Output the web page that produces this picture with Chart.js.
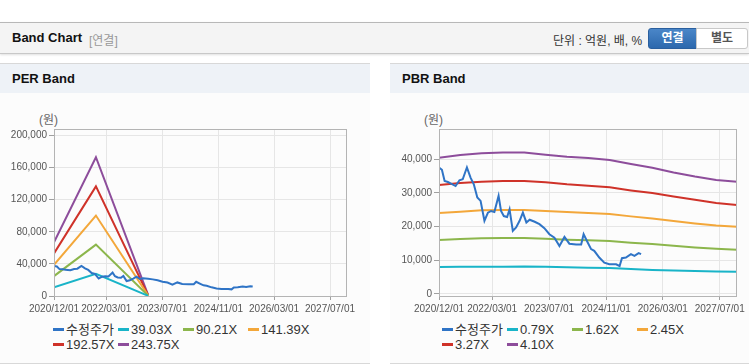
<!DOCTYPE html>
<html lang="ko">
<head>
<meta charset="utf-8">
<script src="https://cdn.jsdelivr.net/npm/chart.js@4/dist/chart.umd.min.js"></script>
<style>
  html, body { margin: 0; padding: 0; background: #fff; }
  body { width: 749px; height: 364px; position: relative; overflow: hidden;
         font-family: Arial, "Liberation Sans", "Noto Sans CJK KR", sans-serif; }
  .topbar { position: absolute; left: 0; top: 22px; width: 749px; height: 30px;
            background: #f4f4f4; border-top: 1px solid #b8b8b8; border-bottom: 1px solid #c8c8c8;
            box-shadow: 0 1px 2px rgba(0,0,0,0.12); }
  .topbar .ttl { position: absolute; left: 12px; top: 7px; font-size: 13px; font-weight: bold; color: #111; }
  .topbar .sub { position: absolute; left: 89px; top: 8px; font-size: 12px; color: #999; }
  .topbar .unit { position: absolute; left: 553px; top: 8px; font-size: 12px; color: #333; }
  .btn { position: absolute; top: 5px; height: 19px; line-height: 19px; font-size: 12px; font-weight: bold; text-align: center; }
  .btn.on { left: 648px; width: 47px; color: #fff; background: linear-gradient(#4a86c8, #2c68ad);
            border: 1px solid #2a5f9e; border-radius: 3px 0 0 3px; }
  .btn.off { left: 696px; width: 50px; color: #555; background: #fff; border: 1px solid #c8c8c8;
             border-radius: 0 3px 3px 0; }
  .panel { position: absolute; top: 63px; height: 299px; background: #fcfcfc;
           border-top: 1px solid #d8d8d8; border-bottom: 1px solid #d8d8d8; }
  .panel .head { height: 29px; background: #eef2f7; font-size: 13px; font-weight: bold; color: #111;
                 line-height: 29px; padding-left: 12px; }
  .panel canvas { position: absolute; top: 30px; left: 0; }
  .unitlbl { position: absolute; top: 46px; font-size: 12px; color: #666; }
  .legend { position: absolute; top: 258px; font-size: 13px; color: #333; }
  .legend .item { position: absolute; white-space: nowrap; height: 15px; line-height: 15px; }
  .legend .sw { display: inline-block; width: 11px; height: 3px; vertical-align: middle; margin-right: 2px; margin-top: -2px; }
</style>
</head>
<body>
<div class="topbar">
  <span class="ttl">Band Chart</span><span class="sub">[연결]</span>
  <span class="unit">단위 : 억원, 배, %</span>
  <div class="btn on">연결</div><div class="btn off">별도</div>
</div>

<div class="panel" style="left:0;width:370px;">
  <div class="head">PER Band</div>
  <span class="unitlbl" style="left:39px;">(원)</span>
  <canvas id="perChart" width="370" height="227"></canvas>
  <div class="legend" id="perLegend" style="left:53px;"></div>
</div>

<div class="panel" style="left:390px;width:359px;">
  <div class="head">PBR Band</div>
  <span class="unitlbl" style="left:34px;">(원)</span>
  <canvas id="pbrChart" width="359" height="227"></canvas>
  <div class="legend" id="pbrLegend" style="left:52px;"></div>
</div>

<script>
// eje x: fechas
const tickDates = ['2020/12/01', '2022/03/01', '2023/07/01', '2024/11/01', '2026/03/01', '2027/07/01'];
const axisStart = '2020/12/01';
const axisEnd = '2027/11/26';

// 수정주가
const priceDates = ['2020/12/01','2020/12/26','2021/01/18','2021/02/15','2021/03/10','2021/04/22','2021/05/25','2021/06/22','2021/07/28','2021/08/28',
  '2021/09/25','2021/10/25','2021/11/22','2021/12/25','2022/01/24','2022/02/20','2022/03/20','2022/04/25','2022/05/16','2022/06/09',
  '2022/07/07','2022/07/28','2022/08/25','2022/09/22','2022/10/22','2022/11/19','2022/12/19','2023/01/16','2023/02/28','2023/04/10',
  '2023/05/22','2023/07/04','2023/08/16','2023/09/28','2023/11/10','2023/12/22','2024/02/18','2024/04/01','2024/04/22','2024/05/28',
  '2024/06/25','2024/07/22','2024/09/03','2024/10/16','2024/11/28','2025/01/25','2025/02/24','2025/03/16','2025/04/19','2025/06/01',
  '2025/07/01','2025/08/06','2025/08/27'];
const priceValues = [37500,36800,33500,33200,32800,32000,33700,34000,37500,34500,
  32500,28600,27600,21700,24100,24600,24300,29100,24600,23100,
  22800,25100,18700,19700,21700,24100,21200,22000,21400,20700,
  19500,17700,16700,14200,16900,14900,14700,14700,17700,15200,
  13300,12800,10800,9300,8800,8800,8300,10600,10800,11800,
  11300,12100,11800];

// PER band
const perLabels = ['39.03X', '90.21X', '141.39X', '192.57X', '243.75X'];
const perDates = ['2020/12/01', '2021/12/01', '2023/03/01'];
const per1 = [10700, 27700, 200];
const per2 = [24800, 64000, 400];
const per3 = [38900, 100200, 600];
const per4 = [53000, 136500, 800];
const per5 = [67000, 172800, 1000];
const perYTicks = [0, 40000, 80000, 120000, 160000, 200000];

// PBR band
const pbrLabels = ['0.79X', '1.62X', '2.45X', '3.27X', '4.10X'];
const pbrDates = ['2020/12/01','2021/06/01','2021/12/01','2022/06/01','2022/12/01','2023/06/01','2023/12/01','2024/06/01',
  '2024/12/01','2025/06/01','2025/12/01','2026/06/01','2026/12/01','2027/06/01','2027/11/26'];
const pbr1 = [8010, 8050, 8080, 8100, 8150, 8050, 7950, 7800, 7700, 7400, 7120, 6950, 6800, 6680, 6620];
const pbr2 = [16000, 16300, 16500, 16600, 16600, 16400, 16100, 15900, 15700, 15200, 14800, 14300, 13800, 13400, 13100];
const pbr3 = [24000, 24400, 24800, 24900, 24900, 24600, 24300, 24000, 23700, 23000, 22400, 21600, 20900, 20300, 19900];
const pbr4 = [32300, 32900, 33300, 33500, 33500, 33100, 32500, 32100, 31600, 30700, 29900, 28900, 27900, 27000, 26400];
const pbr5 = [40400, 41200, 41700, 41900, 41900, 41300, 40700, 40300, 39700, 38500, 37400, 36000, 34800, 33800, 33300];
const pbrYTicks = [0, 10000, 20000, 30000, 40000];

const colores = ['#2f74c6', '#19b4c8', '#8cb64c', '#f3a73a', '#cf3229', '#8d4d9b'];

function dia(s) {
  const [y, m, d] = s.split('/').map(Number);
  return (Date.UTC(y, m - 1, d) - Date.UTC(2020, 11, 1)) / 86400000;
}

function serie(fechas, valores) {
  return valores.map((v, i) => ({ x: dia(fechas[i]), y: v }));
}

const marco = {
  id: 'marco',
  afterDatasetsDraw(chart) {
    const a = chart.chartArea, ctx = chart.ctx;
    ctx.save();
    ctx.strokeStyle = '#b4b4b4';
    ctx.lineWidth = 1;
    ctx.strokeRect(Math.round(a.left) + 0.5, Math.round(a.top) + 0.5,
      Math.round(a.right - a.left) - 1, Math.round(a.bottom - a.top));
    ctx.restore();
  }
};

const fuenteEjes = { size: 10, family: 'Arial, "Liberation Sans", sans-serif' };

function crearGrafico(id, datasets, yTicks, yMin, yMax, yWidth, padRight) {
  const etiquetas = {};
  tickDates.forEach(d => { etiquetas[dia(d)] = d; });

  return new Chart(document.getElementById(id).getContext('2d'), {
    type: 'line',
    data: { datasets: datasets },
    options: {
      responsive: false,
      animation: false,
      layout: { padding: { top: 35, right: padRight, left: 0, bottom: 0 } },
      plugins: { legend: { display: false }, tooltip: { enabled: false } },
      elements: { point: { radius: 0 }, line: { borderWidth: 2, tension: 0 } },
      scales: {
        x: {
          type: 'linear',
          min: dia(axisStart),
          max: dia(axisEnd),
          bounds: 'data',
          afterBuildTicks: (s) => { s.ticks = tickDates.map(d => ({ value: dia(d) })); },
          afterFit: (s) => { s.height = 25; },
          ticks: {
            autoSkip: false, maxRotation: 0, padding: 3,
            color: '#555', font: fuenteEjes,
            callback: (v) => etiquetas[v] ?? ''
          },
          grid: { color: '#e6e6e6', tickColor: '#a0a0a0', tickLength: 4 },
          border: { display: false }
        },
        y: {
          min: yMin,
          max: yMax,
          bounds: 'data',
          afterBuildTicks: (s) => { s.ticks = yTicks.map(v => ({ value: v })); },
          afterFit: (s) => { s.width = yWidth; },
          ticks: {
            padding: 2, color: '#555', font: fuenteEjes,
            callback: (v) => v.toLocaleString('en-US')
          },
          grid: { color: '#e6e6e6', tickColor: '#a0a0a0', tickLength: 5 },
          border: { display: false }
        }
      }
    },
    plugins: [marco]
  });
}

function leyenda(id, nombres) {
  const cont = document.getElementById(id);
  nombres.forEach((n, i) => {
    const el = document.createElement('div');
    el.className = 'item';
    el.style.left = (i % 4) * 65 + 'px';
    el.style.top = Math.floor(i / 4) * 15 + 'px';
    el.innerHTML = '<span class="sw" style="background:' + colores[i] + '"></span>' + n;
    cont.appendChild(el);
  });
}

function linea(label, data, color) {
  return { label: label, data: data, borderColor: color, backgroundColor: color, fill: false };
}

document.addEventListener('DOMContentLoaded', () => {
  Chart.defaults.font.family = 'Arial, "Liberation Sans", "Noto Sans CJK KR", sans-serif';

  const perBands = [per1, per2, per3, per4, per5];
  crearGrafico('perChart', [
    linea('수정주가', serie(priceDates, priceValues), colores[0]),
    ...perBands.map((b, i) => linea(perLabels[i], serie(perDates, b), colores[i + 1]))
  ], perYTicks, 0, 208000, 54, 23);

  const pbrBands = [pbr1, pbr2, pbr3, pbr4, pbr5];
  crearGrafico('pbrChart', [
    linea('수정주가', serie(priceDates, priceValues), colores[0]),
    ...pbrBands.map((b, i) => linea(pbrLabels[i], serie(pbrDates, b), colores[i + 1]))
  ], pbrYTicks, -600, 48900, 49, 12);

  leyenda('perLegend', ['수정주가', ...perLabels]);
  leyenda('pbrLegend', ['수정주가', ...pbrLabels]);
});
</script>
</body>
</html>
